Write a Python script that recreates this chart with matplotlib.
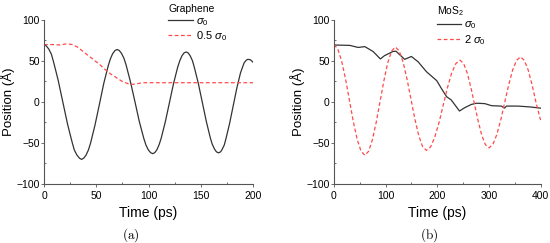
import matplotlib.pyplot as plt
from matplotlib.ticker import MultipleLocator

plt.rcParams['font.family'] = ['Liberation Sans', 'DejaVu Sans']
plt.rcParams['mathtext.fontset'] = 'custom'
plt.rcParams['mathtext.rm'] = 'Liberation Sans'
plt.rcParams['mathtext.it'] = 'Liberation Sans:italic'

# (a) Graphene, sigma_0
ga_t = [0, 2, 4.5, 7, 9, 11, 13.5, 18, 22.5, 25, 27, 29, 31.5, 34, 36,
        38, 40.2, 42.5, 44.5, 48.7, 53, 57.2, 61.5, 63.5, 65.7, 68, 70,
        72, 74.2, 76.5, 78.5, 82.7, 87, 91.2, 95.5, 97.5, 99.7, 102, 104,
        106, 108, 110, 112, 116, 120, 124, 128, 130, 132, 134, 136,
        138, 139.9, 142, 143.7, 147.6, 151.5, 155.4, 159.2, 161, 163.1, 165, 167,
        169, 170.5, 172.5, 174, 177.5, 181, 184.5, 188, 190, 191.5, 193.5, 195, 197.5, 200]
ga_x = [70, 68.6, 64.7, 58.5, 49.5, 39.5, 26.8, 0, -26.8, -39.5, -49.5, -58.5, -64.7, -68.6, -70,
        -68.5, -64.9, -58.5, -50.4, -28.7, -3, 22.7, 44.4, 52.5, 58.9, 62.8, 64,
        62.8, 59.2, 53.3, 45.4, 24.8, 0.5, -23.8, -44.4, -52.3, -58.2, -61.8, -63,
        -61.8, -58.3, -52.6, -44.8, -24.7, -1, 22.7, 42.8, 50.5, 56.3, 59.8, 61,
        59.8, 56.3, 50.5, 43, 23.1, -0.5, -24.1, -44, -51.5, -57.3, -60.8, -62,
        -60.8, -57.7, -52.5, -45.3, -26.8, -5, 16.8, 35.3, 42.5, 47.7, 50.9, 52, 51.5, 48.5]

# (a) Graphene, 0.5 sigma_0
gb_t = [0, 8, 15, 22, 27, 32, 37, 42, 48, 53, 59, 64, 70, 75, 80, 85, 90, 95, 100, 150, 200]
gb_x = [70, 70, 69.5, 71, 70, 67, 62, 57, 51, 46, 39, 34, 29, 25, 22.5, 21.5, 22.5, 23.5, 23.5, 23.5, 23.5]

# (b) MoS2, sigma_0
ma_t = [0, 31, 47, 60, 76, 90, 98, 114, 120, 137, 150, 163, 179, 199, 208, 218, 227,
        243, 253, 266, 276, 292, 305, 324, 330, 334, 356, 379, 400]
ma_x = [69.5, 69, 66.5, 67.5, 61.5, 52.5, 56.5, 61.5, 62, 52, 55.5, 49, 37, 26, 16.5, 6.5, 2.5,
        -11, -7, -3, -1.5, -2, -4.5, -5, -7.5, -5, -5, -6, -7.5]

# (b) MoS2, 2 sigma_0
mb_t = [0, 7.5, 15, 22.5, 30, 37.5, 45, 52.5, 60,
        67.4, 74.7, 82.1, 89.5, 96.9, 104.2, 111.6, 119,
        126.5, 134, 141.5, 149, 156.5, 164, 171.5, 179,
        187.1, 195.2, 203.4, 211.5, 219.6, 227.7, 235.9, 244,
        251, 258, 265, 272, 279, 286, 293, 300,
        307.6, 315.2, 322.9, 330.5, 338.1, 345.7, 353.4, 361,
        368.5, 376, 383.5, 391, 398.5, 400]
mb_x = [70, 64.9, 50.2, 28.4, 2.5, -23.4, -45.2, -59.9, -65,
        -60, -45.7, -24.3, 1, 26.3, 47.7, 62, 67,
        62.2, 48.5, 28.1, 4, -20.1, -40.5, -54.2, -59,
        -54.8, -42.9, -25.1, -4, 17.1, 34.9, 46.8, 51,
        46.9, 35.3, 18, -2.5, -23, -40.3, -51.9, -56,
        -51.8, -39.7, -21.7, -0.5, 20.7, 38.7, 50.8, 55,
        50.8, 38.7, 20.7, -0.5, -19, -22]

fig = plt.figure(figsize=(5.5, 2.43), dpi=100)
ax1 = fig.add_axes([0.08, 0.2428, 0.38, 0.675])
ax2 = fig.add_axes([0.607, 0.2428, 0.376, 0.675])

black = '#333333'
red = '#ff4a4a'

ax1.plot(ga_t, ga_x, color=black, lw=0.9, label=r'$\sigma_0$')
ax1.plot(gb_t, gb_x, color=red, lw=0.9, ls=(0, (3, 2)), label=r'0.5 $\sigma_0$')
ax2.plot(ma_t, ma_x, color=black, lw=0.9, label=r'$\sigma_0$')
ax2.plot(mb_t, mb_x, color=red, lw=0.9, ls=(0, (3, 2)), label=r'2 $\sigma_0$')

ax1.set_xlim(0, 200)
ax2.set_xlim(0, 400)
ax1.xaxis.set_major_locator(MultipleLocator(50))
ax1.xaxis.set_minor_locator(MultipleLocator(25))
ax2.xaxis.set_major_locator(MultipleLocator(100))
ax2.xaxis.set_minor_locator(MultipleLocator(50))

for ax, title, lx, cap, cx in [(ax1, 'Graphene', 0.567, 'a', 0.415), (ax2, r'MoS$_2$', 0.47, 'b', 0.46)]:
    ax.set_ylim(-100, 100)
    ax.yaxis.set_major_locator(MultipleLocator(50))
    ax.yaxis.set_minor_locator(MultipleLocator(25))
    ax.spines['top'].set_visible(False)
    ax.spines['right'].set_visible(False)
    ax.spines['left'].set_color('#555555')
    ax.spines['bottom'].set_color('#555555')
    ax.tick_params(which='major', direction='out', length=2.5, width=0.6, labelsize=7.5, color='#555555')
    ax.tick_params(which='minor', direction='in', length=1.5, width=0.6, color='#555555')
    ax.tick_params(axis='x', which='major', pad=2.5)
    ax.tick_params(axis='y', which='major', pad=0.5)
    ax.set_xlabel('Time (ps)', fontsize=10, labelpad=4)
    ax.set_ylabel('Position (Å)', fontsize=9.5, labelpad=1)
    ax.legend(title=title, loc='upper left', bbox_to_anchor=(lx, 1.13), frameon=False,
              fontsize=8, title_fontsize=7.5, borderpad=0, handlelength=2.2,
              handletextpad=0.3, labelspacing=0.15, alignment='left')
    ax.text(cx, -0.31, r'$\mathrm{(%s)}$' % cap, transform=ax.transAxes,
            ha='center', va='center', fontsize=9.5, math_fontfamily='cm')

fig.savefig('out.png', dpi=100)
